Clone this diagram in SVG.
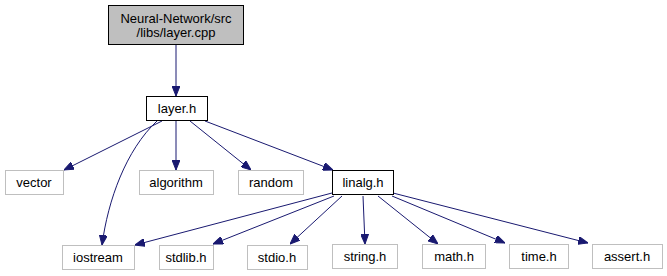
<svg xmlns="http://www.w3.org/2000/svg" width="667" height="276" viewBox="0 0 667 276">
<style>
text{font-family:"Liberation Sans",Arial,sans-serif;font-size:13px;text-anchor:middle;fill:#000}
.n rect{fill:#fff;stroke:#000;stroke-width:1}
.g rect{fill:#fff;stroke:#bfbfbf;stroke-width:1}
.e path{fill:none;stroke:#191970;stroke-width:1}
</style>
<defs>
<marker id="a" viewBox="0 0 10 8" refX="10" refY="4" markerWidth="10" markerHeight="8" markerUnits="userSpaceOnUse" orient="auto">
<path d="M0,0 L10,4 L0,8 Z" fill="#191970" stroke="#191970"/>
</marker>
</defs>
<rect width="667" height="276" fill="#fff"/>
<g class="e">
<path d="M176,45 L176,96" marker-end="url(#a)"/>
<path d="M162,121 L64,170" marker-end="url(#a)"/>
<path d="M157,121 C126,150 108,200 102,245" marker-end="url(#a)"/>
<path d="M176,121 L176,170" marker-end="url(#a)"/>
<path d="M190,121 L251,170" marker-end="url(#a)"/>
<path d="M205,121 L333,170" marker-end="url(#a)"/>
<path d="M332,193 L135,245" marker-end="url(#a)"/>
<path d="M334,196 L213,244" marker-end="url(#a)"/>
<path d="M342,196 L290,244" marker-end="url(#a)"/>
<path d="M363,196 L365,244" marker-end="url(#a)"/>
<path d="M378,196 L438,244" marker-end="url(#a)"/>
<path d="M392,196 L505,243" marker-end="url(#a)"/>
<path d="M393,193 L588,243" marker-end="url(#a)"/>
</g>
<g id="root"><rect x="108.5" y="5.5" width="135" height="39" fill="#bfbfbf" stroke="#000"/><text x="176" y="23">Neural-Network/src</text><text x="176" y="37">/libs/layer.cpp</text></g>
<g id="layer" class="n"><rect x="146.5" y="96.5" width="61" height="24"/><text x="177" y="113">layer.h</text></g>
<g id="vector" class="g"><rect x="5.5" y="170.5" width="58" height="24"/><text x="34" y="187">vector</text></g>
<g id="algorithm" class="g"><rect x="139.5" y="170.5" width="74" height="24"/><text x="176" y="187">algorithm</text></g>
<g id="random" class="g"><rect x="238.5" y="170.5" width="65" height="24"/><text x="271" y="187">random</text></g>
<g id="linalg" class="n"><rect x="332.5" y="170.5" width="61" height="24"/><text x="363" y="187">linalg.h</text></g>
<g id="iostream" class="g"><rect x="62.5" y="245.5" width="72" height="24"/><text x="98" y="262">iostream</text></g>
<g id="stdlib" class="g"><rect x="159.5" y="245.5" width="54" height="24"/><text x="186" y="262">stdlib.h</text></g>
<g id="stdio" class="g"><rect x="247.5" y="245.5" width="60" height="24"/><text x="277" y="262">stdio.h</text></g>
<g id="string" class="g"><rect x="332.5" y="244.5" width="65" height="24"/><text x="365" y="261">string.h</text></g>
<g id="math" class="g"><rect x="422.5" y="244.5" width="63" height="24"/><text x="454" y="261">math.h</text></g>
<g id="time" class="g"><rect x="509.5" y="244.5" width="59" height="24"/><text x="539" y="261">time.h</text></g>
<g id="assert" class="g"><rect x="592.5" y="244.5" width="70" height="24"/><text x="627" y="261">assert.h</text></g>
</svg>
